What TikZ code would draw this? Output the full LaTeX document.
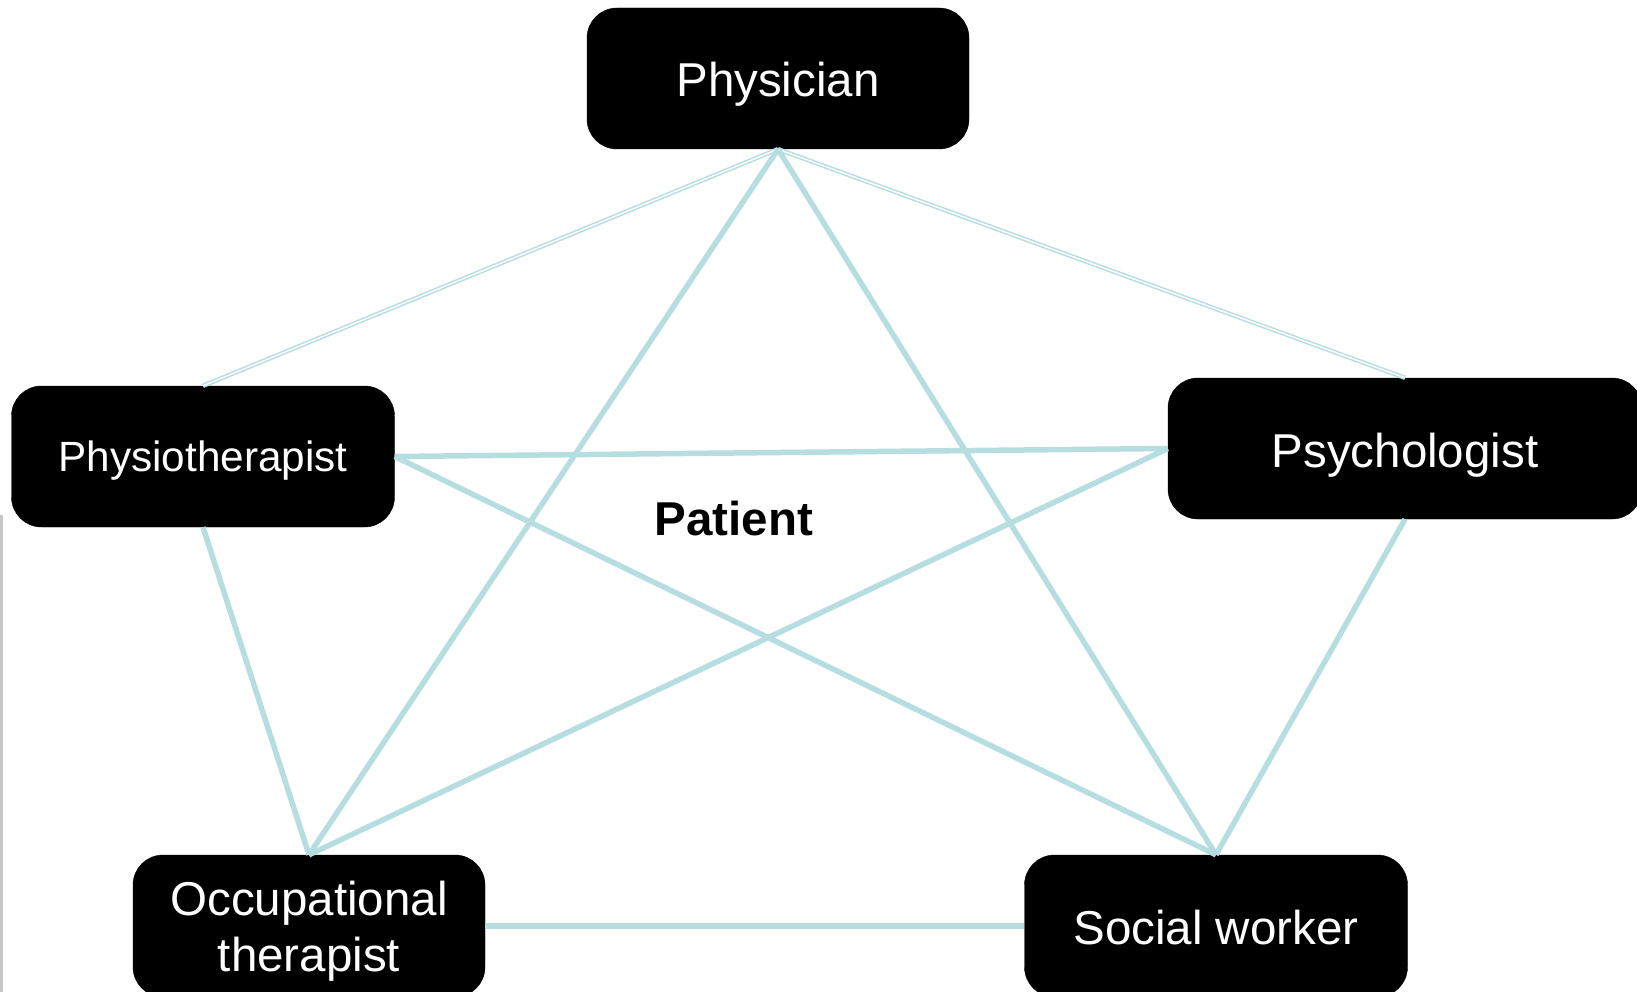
\documentclass[tikz,border=0pt]{standalone}
\usepackage{fontspec}
\setmainfont{Liberation Sans}
\definecolor{linkc}{RGB}{182,221,224}
\tikzset{
  rolebox/.style={rectangle, rounded corners=30pt, fill=black, draw=black, text=white, inner sep=0pt, align=center, font=\fontsize{47.5}{56}\selectfont, text height=37pt, text depth=0pt},
  link/.style={draw=linkc, line width=5.5pt},
  dlink/.style={draw=linkc, line width=1.5pt, double=white, double distance=1.5pt},
}
\begin{document}
\begin{tikzpicture}[x=1pt,y=-1pt]
\useasboundingbox (0,0) rectangle (1637,992);
\draw[gray!45, line width=3pt] (1.5,515) -- (1.5,992);
\node[rolebox, minimum width=382pt, minimum height=141pt] (phys) at (778,78.5) {Physician};
\node[rolebox, minimum width=383pt, minimum height=141pt, font=\fontsize{42.3}{50}\selectfont, text height=30.4pt] (pt) at (203,456.5) {Physiotherapist};
\node[rolebox, minimum width=474pt, minimum height=141pt] (psy) at (1405,448.5) {Psychologist};
\node[rolebox, minimum width=352pt, minimum height=142pt, text height=, text depth=] (ot) at (309,926) {\raisebox{-6pt}[\height][\depth]{\begin{tabular}{@{}c@{}}Occupational\\therapist\end{tabular}}};
\node[rolebox, minimum width=383pt, minimum height=142pt] (sw) at (1216,926) {Social worker};
\node[font=\fontsize{47.5}{56}\selectfont\bfseries] (pat) at (734,519) {Patient};
\draw[dlink] (phys.south) -- (pt.north);
\draw[dlink] (phys.south) -- (psy.north);
\draw[link] (phys.south) -- (ot.north);
\draw[link] (phys.south) -- (sw.north);
\draw[link] (pt.east) -- (psy.west);
\draw[link] (pt.east) -- (sw.north);
\draw[link] (psy.west) -- (ot.north);
\draw[link] (pt.south) -- (ot.north);
\draw[link] (psy.south) -- (sw.north);
\draw[link] (ot.east) -- (sw.west);
\end{tikzpicture}
\end{document}
